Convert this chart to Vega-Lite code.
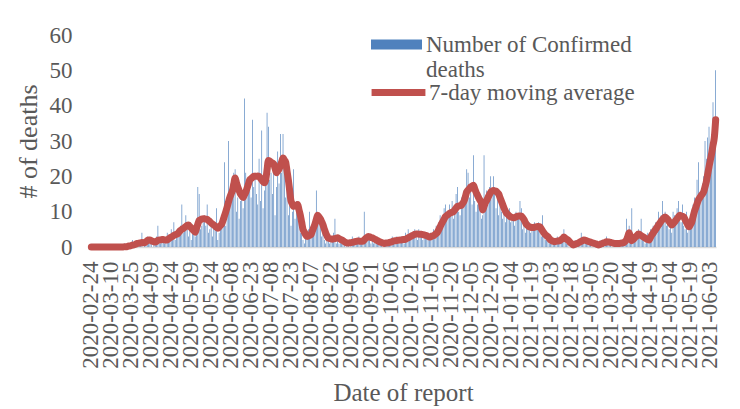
{
"$schema":"https://vega.github.io/schema/vega-lite/v6.json",
"width":625,"height":212,
"autosize":{"type":"none"},
"padding":{"left":91,"top":35,"right":24,"bottom":162},
"background":"white",
"config":{"view":{"stroke":null},"font":"Liberation Serif","axisY":{"labelOverlap":false}},
"data":{"values":[
{"d":"2020-02-24","n":0,"m":0},{"d":"2020-02-25","n":0,"m":0},{"d":"2020-02-26","n":0,"m":0},{"d":"2020-02-27","n":0,"m":0},{"d":"2020-02-28","n":0,"m":0},{"d":"2020-02-29","n":0,"m":0},
{"d":"2020-03-01","n":0,"m":0},{"d":"2020-03-02","n":0,"m":0},{"d":"2020-03-03","n":0,"m":0},{"d":"2020-03-04","n":0,"m":0},{"d":"2020-03-05","n":0,"m":0},{"d":"2020-03-06","n":0,"m":0},{"d":"2020-03-07","n":0,"m":0},{"d":"2020-03-08","n":0,"m":0},{"d":"2020-03-09","n":0,"m":0},{"d":"2020-03-10","n":0,"m":0},{"d":"2020-03-11","n":0,"m":0},{"d":"2020-03-12","n":0,"m":0},{"d":"2020-03-13","n":0,"m":0},{"d":"2020-03-14","n":0,"m":0},{"d":"2020-03-15","n":0,"m":0},{"d":"2020-03-16","n":0,"m":0},{"d":"2020-03-17","n":0,"m":0},{"d":"2020-03-18","n":0,"m":0},{"d":"2020-03-19","n":0,"m":0},
{"d":"2020-03-20","n":1,"m":0.1},{"d":"2020-03-21","n":0,"m":0.1},{"d":"2020-03-22","n":0,"m":0.1},{"d":"2020-03-23","n":1,"m":0.3},{"d":"2020-03-24","n":0,"m":0.3},{"d":"2020-03-25","n":1,"m":0.4},{"d":"2020-03-26","n":2,"m":0.6},{"d":"2020-03-27","n":0,"m":0.6},{"d":"2020-03-28","n":1,"m":0.7},{"d":"2020-03-29","n":2,"m":1.0},{"d":"2020-03-30","n":1,"m":1.0},{"d":"2020-03-31","n":1,"m":1.1},
{"d":"2020-04-01","n":1,"m":1.1},{"d":"2020-04-02","n":4,"m":1.3},{"d":"2020-04-03","n":0,"m":1.2},{"d":"2020-04-04","n":1,"m":1.2},{"d":"2020-04-05","n":2,"m":1.5},{"d":"2020-04-06","n":3,"m":1.8},{"d":"2020-04-07","n":2,"m":2.0},{"d":"2020-04-08","n":2,"m":2.0},{"d":"2020-04-09","n":1,"m":1.8},{"d":"2020-04-10","n":0,"m":1.6},{"d":"2020-04-11","n":2,"m":1.5},{"d":"2020-04-12","n":1,"m":1.4},{"d":"2020-04-13","n":3,"m":1.6},{"d":"2020-04-14","n":6,"m":1.9},{"d":"2020-04-15","n":1,"m":2.0},{"d":"2020-04-16","n":1,"m":2.0},{"d":"2020-04-17","n":2,"m":2.1},{"d":"2020-04-18","n":3,"m":2.1},{"d":"2020-04-19","n":1,"m":2.0},{"d":"2020-04-20","n":2,"m":2.0},{"d":"2020-04-21","n":4,"m":2.0},{"d":"2020-04-22","n":3,"m":2.3},{"d":"2020-04-23","n":2,"m":2.6},{"d":"2020-04-24","n":5,"m":2.8},{"d":"2020-04-25","n":3,"m":3.0},{"d":"2020-04-26","n":7,"m":3.3},{"d":"2020-04-27","n":2,"m":3.5},{"d":"2020-04-28","n":4,"m":3.6},{"d":"2020-04-29","n":5,"m":3.8},{"d":"2020-04-30","n":3,"m":4.3},
{"d":"2020-05-01","n":6,"m":4.7},{"d":"2020-05-02","n":12,"m":5.0},{"d":"2020-05-03","n":4,"m":5.2},{"d":"2020-05-04","n":5,"m":5.5},{"d":"2020-05-05","n":9,"m":5.8},{"d":"2020-05-06","n":5,"m":6.1},{"d":"2020-05-07","n":3,"m":6.2},{"d":"2020-05-08","n":6,"m":5.8},{"d":"2020-05-09","n":2,"m":5.4},{"d":"2020-05-10","n":4,"m":5.0},{"d":"2020-05-11","n":6,"m":4.6},{"d":"2020-05-12","n":3,"m":4.2},{"d":"2020-05-13","n":8,"m":5.3},{"d":"2020-05-14","n":17,"m":6.5},{"d":"2020-05-15","n":15,"m":7.5},{"d":"2020-05-16","n":5,"m":7.7},{"d":"2020-05-17","n":6,"m":7.9},{"d":"2020-05-18","n":7,"m":8.0},{"d":"2020-05-19","n":9,"m":8.0},{"d":"2020-05-20","n":6,"m":7.9},{"d":"2020-05-21","n":12,"m":7.8},{"d":"2020-05-22","n":4,"m":7.5},{"d":"2020-05-23","n":5,"m":7.2},{"d":"2020-05-24","n":8,"m":6.8},{"d":"2020-05-25","n":3,"m":6.5},{"d":"2020-05-26","n":6,"m":6.2},{"d":"2020-05-27","n":5,"m":5.9},{"d":"2020-05-28","n":11,"m":5.6},{"d":"2020-05-29","n":2,"m":5.3},{"d":"2020-05-30","n":4,"m":5.7},{"d":"2020-05-31","n":7,"m":6.1},
{"d":"2020-06-01","n":9,"m":6.5},{"d":"2020-06-02","n":10,"m":7.6},{"d":"2020-06-03","n":24,"m":8.8},{"d":"2020-06-04","n":6,"m":10},{"d":"2020-06-05","n":14,"m":11.3},{"d":"2020-06-06","n":30,"m":12.7},{"d":"2020-06-07","n":12,"m":14},{"d":"2020-06-08","n":18,"m":15},{"d":"2020-06-09","n":16,"m":16},{"d":"2020-06-10","n":21,"m":17.8},{"d":"2020-06-11","n":22,"m":19.5},{"d":"2020-06-12","n":10,"m":18.2},{"d":"2020-06-13","n":14,"m":17},{"d":"2020-06-14","n":8,"m":16},{"d":"2020-06-15","n":13,"m":15},{"d":"2020-06-16","n":16,"m":14.5},{"d":"2020-06-17","n":11,"m":14},{"d":"2020-06-18","n":42,"m":14.8},{"d":"2020-06-19","n":21,"m":15.5},{"d":"2020-06-20","n":15,"m":16.7},{"d":"2020-06-21","n":18,"m":17.8},{"d":"2020-06-22","n":20,"m":19},{"d":"2020-06-23","n":14,"m":19.3},{"d":"2020-06-24","n":36,"m":19.7},{"d":"2020-06-25","n":17,"m":20},{"d":"2020-06-26","n":21,"m":20},{"d":"2020-06-27","n":15,"m":20},{"d":"2020-06-28","n":12,"m":20.1},{"d":"2020-06-29","n":25,"m":20},{"d":"2020-06-30","n":13,"m":19.5},
{"d":"2020-07-01","n":33,"m":19},{"d":"2020-07-02","n":11,"m":18.5},{"d":"2020-07-03","n":16,"m":18.2},{"d":"2020-07-04","n":20,"m":19},{"d":"2020-07-05","n":38,"m":21.8},{"d":"2020-07-06","n":34,"m":24.5},{"d":"2020-07-07","n":19,"m":24.3},{"d":"2020-07-08","n":21,"m":24},{"d":"2020-07-09","n":15,"m":23.8},{"d":"2020-07-10","n":23,"m":23.5},{"d":"2020-07-11","n":9,"m":22.3},{"d":"2020-07-12","n":17,"m":21},{"d":"2020-07-13","n":27,"m":21.5},{"d":"2020-07-14","n":18,"m":22},{"d":"2020-07-15","n":32,"m":23},{"d":"2020-07-16","n":21,"m":24.1},{"d":"2020-07-17","n":32,"m":25.2},{"d":"2020-07-18","n":23,"m":24.6},{"d":"2020-07-19","n":14,"m":24},{"d":"2020-07-20","n":20,"m":21.5},{"d":"2020-07-21","n":9,"m":19},{"d":"2020-07-22","n":12,"m":16},{"d":"2020-07-23","n":6,"m":13},{"d":"2020-07-24","n":10,"m":12.2},{"d":"2020-07-25","n":22,"m":11.5},{"d":"2020-07-26","n":8,"m":11.7},{"d":"2020-07-27","n":13,"m":11.8},{"d":"2020-07-28","n":12,"m":12},{"d":"2020-07-29","n":7,"m":10.5},{"d":"2020-07-30","n":4,"m":9},{"d":"2020-07-31","n":5,"m":7},
{"d":"2020-08-01","n":2,"m":5},{"d":"2020-08-02","n":1,"m":4.2},{"d":"2020-08-03","n":3,"m":3.5},{"d":"2020-08-04","n":2,"m":3},{"d":"2020-08-05","n":5,"m":3.1},{"d":"2020-08-06","n":10,"m":3.3},{"d":"2020-08-07","n":3,"m":3.5},{"d":"2020-08-08","n":4,"m":4.5},{"d":"2020-08-09","n":6,"m":5.5},{"d":"2020-08-10","n":9,"m":6.5},{"d":"2020-08-11","n":16,"m":7.8},{"d":"2020-08-12","n":8,"m":9},{"d":"2020-08-13","n":7,"m":8.5},{"d":"2020-08-14","n":6,"m":8},{"d":"2020-08-15","n":3,"m":7.2},{"d":"2020-08-16","n":5,"m":6.3},{"d":"2020-08-17","n":2,"m":5.1},{"d":"2020-08-18","n":1,"m":4},{"d":"2020-08-19","n":3,"m":3.2},{"d":"2020-08-20","n":2,"m":2.5},{"d":"2020-08-21","n":1,"m":2.4},{"d":"2020-08-22","n":3,"m":2.3},{"d":"2020-08-23","n":2,"m":2.2},{"d":"2020-08-24","n":4,"m":2.3},{"d":"2020-08-25","n":8,"m":2.4},{"d":"2020-08-26","n":1,"m":2.5},{"d":"2020-08-27","n":2,"m":2.6},{"d":"2020-08-28","n":1,"m":2.4},{"d":"2020-08-29","n":3,"m":2.2},{"d":"2020-08-30","n":1,"m":2.0},{"d":"2020-08-31","n":2,"m":1.8},
{"d":"2020-09-01","n":1,"m":1.5},{"d":"2020-09-02","n":0,"m":1.3},{"d":"2020-09-03","n":1,"m":1.1},{"d":"2020-09-04","n":2,"m":1.1},{"d":"2020-09-05","n":0,"m":1.2},{"d":"2020-09-06","n":1,"m":1.2},{"d":"2020-09-07","n":3,"m":1.3},{"d":"2020-09-08","n":1,"m":1.4},{"d":"2020-09-09","n":2,"m":1.5},{"d":"2020-09-10","n":1,"m":1.6},{"d":"2020-09-11","n":2,"m":1.7},{"d":"2020-09-12","n":3,"m":1.7},{"d":"2020-09-13","n":1,"m":1.6},{"d":"2020-09-14","n":2,"m":1.6},{"d":"2020-09-15","n":1,"m":1.6},{"d":"2020-09-16","n":10,"m":2.0},{"d":"2020-09-17","n":2,"m":2.4},{"d":"2020-09-18","n":3,"m":2.7},{"d":"2020-09-19","n":2,"m":3.0},{"d":"2020-09-20","n":3,"m":2.9},{"d":"2020-09-21","n":1,"m":2.7},{"d":"2020-09-22","n":2,"m":2.6},{"d":"2020-09-23","n":1,"m":2.4},{"d":"2020-09-24","n":2,"m":2.2},{"d":"2020-09-25","n":1,"m":2.0},{"d":"2020-09-26","n":2,"m":1.8},{"d":"2020-09-27","n":1,"m":1.6},{"d":"2020-09-28","n":1,"m":1.4},{"d":"2020-09-29","n":2,"m":1.3},{"d":"2020-09-30","n":0,"m":1.1},
{"d":"2020-10-01","n":1,"m":1.0},{"d":"2020-10-02","n":2,"m":1.1},{"d":"2020-10-03","n":1,"m":1.1},{"d":"2020-10-04","n":1,"m":1.2},{"d":"2020-10-05","n":2,"m":1.3},{"d":"2020-10-06","n":1,"m":1.4},{"d":"2020-10-07","n":3,"m":1.5},{"d":"2020-10-08","n":2,"m":1.7},{"d":"2020-10-09","n":1,"m":1.8},{"d":"2020-10-10","n":3,"m":1.8},{"d":"2020-10-11","n":2,"m":1.9},{"d":"2020-10-12","n":1,"m":1.9},{"d":"2020-10-13","n":2,"m":2.0},{"d":"2020-10-14","n":3,"m":2.0},{"d":"2020-10-15","n":2,"m":2.1},{"d":"2020-10-16","n":1,"m":2.1},{"d":"2020-10-17","n":4,"m":2.2},{"d":"2020-10-18","n":2,"m":2.4},{"d":"2020-10-19","n":5,"m":2.6},{"d":"2020-10-20","n":3,"m":2.8},{"d":"2020-10-21","n":2,"m":3.0},{"d":"2020-10-22","n":4,"m":3.2},{"d":"2020-10-23","n":3,"m":3.4},{"d":"2020-10-24","n":5,"m":3.6},{"d":"2020-10-25","n":4,"m":3.7},{"d":"2020-10-26","n":2,"m":3.7},{"d":"2020-10-27","n":5,"m":3.6},{"d":"2020-10-28","n":3,"m":3.6},{"d":"2020-10-29","n":4,"m":3.6},{"d":"2020-10-30","n":2,"m":3.5},{"d":"2020-10-31","n":3,"m":3.4},
{"d":"2020-11-01","n":4,"m":3.3},{"d":"2020-11-02","n":3,"m":3.2},{"d":"2020-11-03","n":2,"m":3.0},{"d":"2020-11-04","n":3,"m":2.8},{"d":"2020-11-05","n":4,"m":2.9},{"d":"2020-11-06","n":3,"m":3.1},{"d":"2020-11-07","n":5,"m":3.2},{"d":"2020-11-08","n":4,"m":3.5},{"d":"2020-11-09","n":6,"m":3.8},{"d":"2020-11-10","n":5,"m":4.2},{"d":"2020-11-11","n":7,"m":4.9},{"d":"2020-11-12","n":9,"m":5.7},{"d":"2020-11-13","n":8,"m":6.5},{"d":"2020-11-14","n":6,"m":7.2},{"d":"2020-11-15","n":11,"m":7.9},{"d":"2020-11-16","n":12,"m":8.6},{"d":"2020-11-17","n":8,"m":8.9},{"d":"2020-11-18","n":10,"m":9.2},{"d":"2020-11-19","n":12,"m":9.5},{"d":"2020-11-20","n":9,"m":9.7},{"d":"2020-11-21","n":13,"m":9.8},{"d":"2020-11-22","n":8,"m":10},{"d":"2020-11-23","n":11,"m":10.5},{"d":"2020-11-24","n":15,"m":11},{"d":"2020-11-25","n":17,"m":11.5},{"d":"2020-11-26","n":10,"m":11.6},{"d":"2020-11-27","n":9,"m":11.7},{"d":"2020-11-28","n":14,"m":11.8},{"d":"2020-11-29","n":12,"m":12.4},{"d":"2020-11-30","n":16,"m":13},
{"d":"2020-12-01","n":15,"m":14.3},{"d":"2020-12-02","n":22,"m":15.6},{"d":"2020-12-03","n":21,"m":16.1},{"d":"2020-12-04","n":14,"m":16.5},{"d":"2020-12-05","n":18,"m":17},{"d":"2020-12-06","n":12,"m":17.2},{"d":"2020-12-07","n":26,"m":17.5},{"d":"2020-12-08","n":13,"m":16.5},{"d":"2020-12-09","n":10,"m":15.5},{"d":"2020-12-10","n":12,"m":14.7},{"d":"2020-12-11","n":15,"m":13.9},{"d":"2020-12-12","n":11,"m":13.2},{"d":"2020-12-13","n":8,"m":12.5},{"d":"2020-12-14","n":9,"m":10.5},{"d":"2020-12-15","n":26,"m":11.5},{"d":"2020-12-16","n":14,"m":12.5},{"d":"2020-12-17","n":16,"m":13.2},{"d":"2020-12-18","n":12,"m":14},{"d":"2020-12-19","n":17,"m":14.8},{"d":"2020-12-20","n":20,"m":15.5},{"d":"2020-12-21","n":15,"m":15.8},{"d":"2020-12-22","n":20,"m":16},{"d":"2020-12-23","n":17,"m":15.9},{"d":"2020-12-24","n":11,"m":15.8},{"d":"2020-12-25","n":14,"m":15.4},{"d":"2020-12-26","n":9,"m":15},{"d":"2020-12-27","n":13,"m":14},{"d":"2020-12-28","n":10,"m":13},{"d":"2020-12-29","n":8,"m":12},{"d":"2020-12-30","n":12,"m":11},{"d":"2020-12-31","n":7,"m":10.2},
{"d":"2021-01-01","n":9,"m":9.5},{"d":"2021-01-02","n":8,"m":9.2},{"d":"2021-01-03","n":11,"m":8.8},{"d":"2021-01-04","n":7,"m":8.5},{"d":"2021-01-05","n":9,"m":8.4},{"d":"2021-01-06","n":8,"m":8.3},{"d":"2021-01-07","n":6,"m":8.3},{"d":"2021-01-08","n":10,"m":8.5},{"d":"2021-01-09","n":8,"m":8.7},{"d":"2021-01-10","n":9,"m":8.8},{"d":"2021-01-11","n":13,"m":8.8},{"d":"2021-01-12","n":11,"m":8.8},{"d":"2021-01-13","n":5,"m":8.3},{"d":"2021-01-14","n":7,"m":7.8},{"d":"2021-01-15","n":4,"m":7.0},{"d":"2021-01-16","n":6,"m":6.3},{"d":"2021-01-17","n":5,"m":6.0},{"d":"2021-01-18","n":7,"m":5.7},{"d":"2021-01-19","n":4,"m":5.6},{"d":"2021-01-20","n":6,"m":5.5},{"d":"2021-01-21","n":5,"m":5.5},{"d":"2021-01-22","n":7,"m":5.6},{"d":"2021-01-23","n":6,"m":5.7},{"d":"2021-01-24","n":5,"m":5.8},{"d":"2021-01-25","n":7,"m":5.8},{"d":"2021-01-26","n":4,"m":5.7},{"d":"2021-01-27","n":3,"m":5.1},{"d":"2021-01-28","n":9,"m":4.5},{"d":"2021-01-29","n":3,"m":4.0},{"d":"2021-01-30","n":2,"m":3.5},{"d":"2021-01-31","n":3,"m":3.2},
{"d":"2021-02-01","n":2,"m":2.9},{"d":"2021-02-02","n":1,"m":2.4},{"d":"2021-02-03","n":2,"m":2.0},{"d":"2021-02-04","n":1,"m":1.8},{"d":"2021-02-05","n":2,"m":1.6},{"d":"2021-02-06","n":1,"m":1.5},{"d":"2021-02-07","n":2,"m":1.6},{"d":"2021-02-08","n":3,"m":1.7},{"d":"2021-02-09","n":1,"m":1.7},{"d":"2021-02-10","n":2,"m":1.8},{"d":"2021-02-11","n":3,"m":2.1},{"d":"2021-02-12","n":2,"m":2.4},{"d":"2021-02-13","n":5,"m":2.8},{"d":"2021-02-14","n":2,"m":2.5},{"d":"2021-02-15","n":1,"m":2.2},{"d":"2021-02-16","n":2,"m":2.0},{"d":"2021-02-17","n":0,"m":1.6},{"d":"2021-02-18","n":1,"m":1.2},{"d":"2021-02-19","n":0,"m":0.9},{"d":"2021-02-20","n":1,"m":0.6},{"d":"2021-02-21","n":0,"m":0.7},{"d":"2021-02-22","n":2,"m":0.9},{"d":"2021-02-23","n":1,"m":1.0},{"d":"2021-02-24","n":2,"m":1.2},{"d":"2021-02-25","n":1,"m":1.4},{"d":"2021-02-26","n":4,"m":1.6},{"d":"2021-02-27","n":2,"m":1.8},{"d":"2021-02-28","n":2,"m":2.0},
{"d":"2021-03-01","n":1,"m":1.9},{"d":"2021-03-02","n":2,"m":1.8},{"d":"2021-03-03","n":1,"m":1.6},{"d":"2021-03-04","n":1,"m":1.5},{"d":"2021-03-05","n":2,"m":1.4},{"d":"2021-03-06","n":0,"m":1.2},{"d":"2021-03-07","n":1,"m":1.1},{"d":"2021-03-08","n":1,"m":1.0},{"d":"2021-03-09","n":0,"m":0.9},{"d":"2021-03-10","n":1,"m":0.7},{"d":"2021-03-11","n":0,"m":0.6},{"d":"2021-03-12","n":1,"m":0.7},{"d":"2021-03-13","n":2,"m":0.9},{"d":"2021-03-14","n":1,"m":1.0},{"d":"2021-03-15","n":2,"m":1.2},{"d":"2021-03-16","n":1,"m":1.3},{"d":"2021-03-17","n":3,"m":1.5},{"d":"2021-03-18","n":1,"m":1.4},{"d":"2021-03-19","n":1,"m":1.4},{"d":"2021-03-20","n":2,"m":1.3},{"d":"2021-03-21","n":0,"m":1.2},{"d":"2021-03-22","n":1,"m":1.1},{"d":"2021-03-23","n":1,"m":1.0},{"d":"2021-03-24","n":2,"m":1.0},{"d":"2021-03-25","n":0,"m":1.0},{"d":"2021-03-26","n":1,"m":1.0},{"d":"2021-03-27","n":2,"m":1.0},{"d":"2021-03-28","n":1,"m":1.1},{"d":"2021-03-29","n":1,"m":1.1},{"d":"2021-03-30","n":2,"m":1.2},{"d":"2021-03-31","n":3,"m":1.6},
{"d":"2021-04-01","n":8,"m":2.0},{"d":"2021-04-02","n":4,"m":3.0},{"d":"2021-04-03","n":6,"m":4.0},{"d":"2021-04-04","n":1,"m":2.8},{"d":"2021-04-05","n":11,"m":1.8},{"d":"2021-04-06","n":2,"m":2.1},{"d":"2021-04-07","n":3,"m":2.5},{"d":"2021-04-08","n":4,"m":2.9},{"d":"2021-04-09","n":2,"m":3.3},{"d":"2021-04-10","n":5,"m":3.7},{"d":"2021-04-11","n":3,"m":3.5},{"d":"2021-04-12","n":8,"m":3.2},{"d":"2021-04-13","n":2,"m":3.0},{"d":"2021-04-14","n":3,"m":2.8},{"d":"2021-04-15","n":1,"m":2.5},{"d":"2021-04-16","n":2,"m":2.3},{"d":"2021-04-17","n":4,"m":2.1},{"d":"2021-04-18","n":3,"m":2.0},{"d":"2021-04-19","n":5,"m":2.7},{"d":"2021-04-20","n":4,"m":3.4},{"d":"2021-04-21","n":6,"m":3.9},{"d":"2021-04-22","n":5,"m":4.5},{"d":"2021-04-23","n":7,"m":5.0},{"d":"2021-04-24","n":6,"m":5.6},{"d":"2021-04-25","n":10,"m":6.2},{"d":"2021-04-26","n":7,"m":6.7},{"d":"2021-04-27","n":9,"m":7.3},{"d":"2021-04-28","n":13,"m":7.8},{"d":"2021-04-29","n":8,"m":8.2},{"d":"2021-04-30","n":10,"m":8.5},
{"d":"2021-05-01","n":6,"m":8.2},{"d":"2021-05-02","n":7,"m":7.8},{"d":"2021-05-03","n":5,"m":7.2},{"d":"2021-05-04","n":6,"m":6.7},{"d":"2021-05-05","n":4,"m":6.2},{"d":"2021-05-06","n":10,"m":6.6},{"d":"2021-05-07","n":9,"m":7.0},{"d":"2021-05-08","n":8,"m":7.5},{"d":"2021-05-09","n":11,"m":8.0},{"d":"2021-05-10","n":13,"m":8.5},{"d":"2021-05-11","n":9,"m":9.0},{"d":"2021-05-12","n":7,"m":8.8},{"d":"2021-05-13","n":12,"m":8.7},{"d":"2021-05-14","n":6,"m":8.5},{"d":"2021-05-15","n":5,"m":7.8},{"d":"2021-05-16","n":10,"m":7.0},{"d":"2021-05-17","n":4,"m":6.3},{"d":"2021-05-18","n":6,"m":5.7},{"d":"2021-05-19","n":8,"m":6.3},{"d":"2021-05-20","n":10,"m":7.0},{"d":"2021-05-21","n":12,"m":8.5},{"d":"2021-05-22","n":14,"m":10},{"d":"2021-05-23","n":11,"m":11.1},{"d":"2021-05-24","n":19,"m":12.2},{"d":"2021-05-25","n":24,"m":13.3},{"d":"2021-05-26","n":13,"m":13.9},{"d":"2021-05-27","n":16,"m":14.5},{"d":"2021-05-28","n":18,"m":15.0},{"d":"2021-05-29","n":20,"m":15.6},{"d":"2021-05-30","n":30,"m":17},{"d":"2021-05-31","n":25,"m":18.5},
{"d":"2021-06-01","n":31,"m":20.6},{"d":"2021-06-02","n":34,"m":22.7},{"d":"2021-06-03","n":28,"m":24.6},{"d":"2021-06-04","n":32,"m":26.5},{"d":"2021-06-05","n":41,"m":28.8},{"d":"2021-06-06","n":36,"m":31},{"d":"2021-06-07","n":50,"m":36}
]},
"encoding":{
"x":{"field":"d","type":"ordinal","scale":{"paddingInner":0.5,"paddingOuter":0},
"axis":{"values":["2020-02-24","2020-03-10","2020-03-25","2020-04-09","2020-04-24","2020-05-09","2020-05-24","2020-06-08","2020-06-23","2020-07-08","2020-07-23","2020-08-07","2020-08-22","2020-09-06","2020-09-21","2020-10-06","2020-10-21","2020-11-05","2020-11-20","2020-12-05","2020-12-20","2021-01-04","2021-01-19","2021-02-03","2021-02-18","2021-03-05","2021-03-20","2021-04-04","2021-04-19","2021-05-04","2021-05-19","2021-06-03"],
"labelAngle":270,"labelAlign":"right","labelBaseline":"middle","labelPadding":14,"labelOverlap":false,"labelFont":"Liberation Serif","labelFontSize":23,"labelColor":"#595959",
"ticks":false,"domainColor":"#d9d9d9","domainWidth":1.5,
"title":"Date of report","titleFont":"Liberation Serif","titleFontSize":25,"titleFontWeight":"normal","titleColor":"#595959","titleX":312,"titleY":153,"titleBaseline":"alphabetic"}}
},
"layer":[
{"mark":{"type":"bar"},
"encoding":{"y":{"field":"n","type":"quantitative","scale":{"domain":[0,60],"nice":false},
"axis":{"values":[0,10,20,30,40,50,60],"labelOverlap":false,"grid":false,"domain":false,"ticks":false,"labelPadding":19,"labelFont":"Liberation Serif","labelFontSize":23,"labelColor":"#595959",
"title":"# of deaths","titleFont":"Liberation Serif","titleFontSize":26,"titleFontWeight":"normal","titleColor":"#595959","titleAngle":270,"titleX":-55,"titleY":106,"titleBaseline":"alphabetic","titleAlign":"center"}},
"fill":{"datum":"Number of Confirmed deaths","type":"nominal","scale":{"domain":["Number of Confirmed deaths"],"range":["#4f81bd"]},
"legend":{"orient":"none","legendX":280,"legendY":-16,"title":null,"symbolType":"M-1,-0.2H1V0.2H-1Z","symbolSize":2601,"symbolStrokeWidth":0,"labelFont":"Liberation Serif","labelFontSize":23,"labelColor":"#595959","labelLimit":0,"labelOffset":4,
"labelExpr":"['Number of Confirmed','deaths']"}}}},
{"mark":{"type":"line","strokeWidth":7,"strokeCap":"round","strokeJoin":"round","interpolate":"monotone"},
"encoding":{"y":{"field":"m","type":"quantitative",
"axis":{"values":[0,10,20,30,40,50,60],"labelOverlap":false,"grid":false,"domain":false,"ticks":false,"labelPadding":19,"labelFont":"Liberation Serif","labelFontSize":23,"labelColor":"#595959",
"title":"# of deaths","titleFont":"Liberation Serif","titleFontSize":26,"titleFontWeight":"normal","titleColor":"#595959","titleAngle":270,"titleX":-55,"titleY":106,"titleBaseline":"alphabetic","titleAlign":"center"}},
"stroke":{"datum":"7-day moving average","type":"nominal","scale":{"domain":["7-day moving average"],"range":["#c0504d"]},
"legend":{"orient":"none","legendX":277,"legendY":27,"title":null,"symbolType":"stroke","symbolSize":2900,"symbolStrokeWidth":7,"labelFont":"Liberation Serif","labelFontSize":23,"labelColor":"#595959","labelLimit":0,"labelOffset":0}}}}
]
}
